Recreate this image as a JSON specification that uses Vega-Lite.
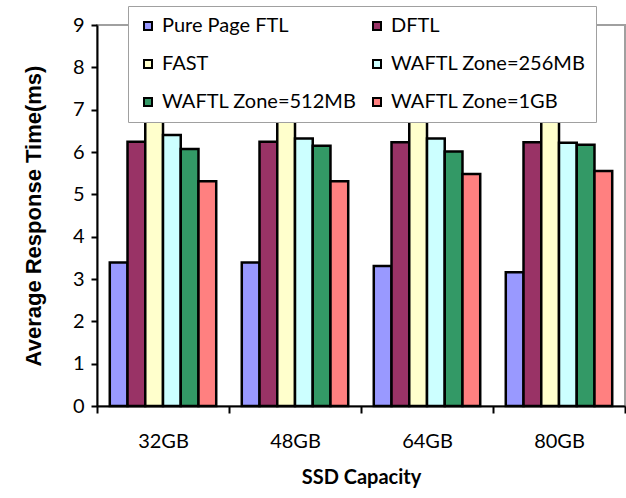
{
  "$schema": "https://vega.github.io/schema/vega-lite/v6.json",
  "width": 528,
  "height": 381,
  "autosize": "none",
  "padding": {"left": 97, "top": 25, "right": 1, "bottom": 92},
  "background": "white",
  "config": {
    "font": "Lato",
    "view": {"stroke": "#A0A0A0", "strokeWidth": 2},
    "axis": {"grid": false, "domainColor": "black", "domainWidth": 2, "tickColor": "black", "tickWidth": 2, "labelColor": "black", "titleColor": "black", "labelFont": "Lato"}
  },
  "data": {
    "values": [
      {"cap": "32GB", "ftl": "Pure Page FTL", "v": 3.39},
      {"cap": "32GB", "ftl": "DFTL", "v": 6.24},
      {"cap": "32GB", "ftl": "FAST", "v": 7.6},
      {"cap": "32GB", "ftl": "WAFTL Zone=256MB", "v": 6.40},
      {"cap": "32GB", "ftl": "WAFTL Zone=512MB", "v": 6.07},
      {"cap": "32GB", "ftl": "WAFTL Zone=1GB", "v": 5.31},
      {"cap": "48GB", "ftl": "Pure Page FTL", "v": 3.39},
      {"cap": "48GB", "ftl": "DFTL", "v": 6.24},
      {"cap": "48GB", "ftl": "FAST", "v": 7.6},
      {"cap": "48GB", "ftl": "WAFTL Zone=256MB", "v": 6.32},
      {"cap": "48GB", "ftl": "WAFTL Zone=512MB", "v": 6.15},
      {"cap": "48GB", "ftl": "WAFTL Zone=1GB", "v": 5.31},
      {"cap": "64GB", "ftl": "Pure Page FTL", "v": 3.31},
      {"cap": "64GB", "ftl": "DFTL", "v": 6.23},
      {"cap": "64GB", "ftl": "FAST", "v": 7.6},
      {"cap": "64GB", "ftl": "WAFTL Zone=256MB", "v": 6.32},
      {"cap": "64GB", "ftl": "WAFTL Zone=512MB", "v": 6.01},
      {"cap": "64GB", "ftl": "WAFTL Zone=1GB", "v": 5.48},
      {"cap": "80GB", "ftl": "Pure Page FTL", "v": 3.16},
      {"cap": "80GB", "ftl": "DFTL", "v": 6.23},
      {"cap": "80GB", "ftl": "FAST", "v": 7.6},
      {"cap": "80GB", "ftl": "WAFTL Zone=256MB", "v": 6.22},
      {"cap": "80GB", "ftl": "WAFTL Zone=512MB", "v": 6.17},
      {"cap": "80GB", "ftl": "WAFTL Zone=1GB", "v": 5.55}
    ]
  },
  "mark": {"type": "bar", "stroke": "black", "strokeWidth": 2.5},
  "encoding": {
    "x": {
      "field": "cap", "type": "nominal",
      "scale": {"paddingInner": 0, "paddingOuter": 0},
      "axis": {"title": "SSD Capacity", "labelAngle": 0, "tickBand": "extent", "tickSize": 7, "labelPadding": 18, "labelFontSize": 20, "titleFont": "Lato", "titleFontSize": 20, "titleFontWeight": "bold", "titlePadding": 16}
    },
    "xOffset": {
      "field": "ftl", "type": "nominal",
      "sort": ["Pure Page FTL", "DFTL", "FAST", "WAFTL Zone=256MB", "WAFTL Zone=512MB", "WAFTL Zone=1GB"],
      "scale": {"paddingInner": 0, "paddingOuter": 0.72}
    },
    "y": {
      "field": "v", "type": "quantitative",
      "scale": {"domain": [0, 9], "nice": false},
      "axis": {"title": "Average Response Time(ms)", "values": [0,1,2,3,4,5,6,7,8,9], "tickSize": 6, "labelPadding": 7, "labelFontSize": 20, "titleFont": "Liberation Sans", "titleFontSize": 22, "titleFontWeight": "bold", "titlePadding": 27}
    },
    "color": {
      "field": "ftl", "type": "nominal",
      "sort": ["Pure Page FTL", "DFTL", "FAST", "WAFTL Zone=256MB", "WAFTL Zone=512MB", "WAFTL Zone=1GB"],
      "scale": {
        "domain": ["Pure Page FTL", "DFTL", "FAST", "WAFTL Zone=256MB", "WAFTL Zone=512MB", "WAFTL Zone=1GB"],
        "range": ["#9999FF", "#993366", "#FFFFCC", "#CCFFFF", "#339966", "#FF8080"]
      },
      "legend": {
        "title": null, "orient": "none", "legendX": 31, "legendY": -19,
        "direction": "horizontal",
        "columns": 2, "columnPadding": 10, "rowPadding": 18, "padding": 10,
        "fillColor": "white", "strokeColor": "#A0A0A0",
        "symbolType": "square", "symbolSize": 64, "symbolStrokeColor": "black", "symbolStrokeWidth": 2,
        "labelFontSize": 20, "labelColor": "black", "labelOffset": 4, "labelLimit": 300
      }
    }
  }
}
